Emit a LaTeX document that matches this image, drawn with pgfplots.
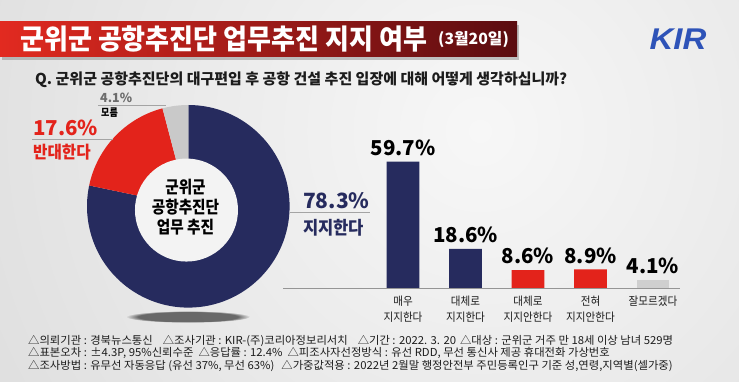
\documentclass[border=0pt]{standalone}
\usepackage{pgfplots}
\pgfplotsset{compat=1.18}
\usepackage{fontspec}
\usepackage{graphicx}
\usetikzlibrary{shadows,fadings}
\setmainfont{Noto Sans CJK KR}
\newfontfamily\fA[FakeStretch=0.93]{Noto Sans CJK KR}
\newfontfamily\fAA[FakeStretch=1.02]{Noto Sans CJK KR}
\newfontfamily\fB[FakeStretch=0.92]{Noto Sans CJK KR}
\newfontfamily\fQ[FakeStretch=1.0]{Noto Sans CJK KR}
\newfontfamily\fC[FakeStretch=0.86]{Noto Sans CJK KR}
\newfontfamily\fD[FakeStretch=1.03]{Noto Sans CJK KR}
\newfontfamily\fN{Noto Sans CJK KR}
\newfontfamily\logo{Liberation Sans}
\newcommand{\fs}[1]{\fontsize{#1bp}{1.25\dimexpr#1bp\relax}\selectfont}
\definecolor{navy}{HTML}{262B5E}
\definecolor{kred}{HTML}{E3231B}
\definecolor{wgrey}{HTML}{C9C9C9}
\definecolor{bgrey}{HTML}{CFCFCF}
\definecolor{bglight}{HTML}{F7F7F7}
\definecolor{bgdark}{HTML}{D0D0D0}
\definecolor{tl}{HTML}{E22A20}
\definecolor{tr}{HTML}{5A0C10}
\definecolor{kirblue}{HTML}{2E53B8}
\definecolor{hole}{HTML}{F3F3F3}
\definecolor{txt}{HTML}{1C1C1C}
\definecolor{axl}{HTML}{A4A4A4}
\definecolor{base}{HTML}{959595}
% donut values (%)
\def\vSup{78.3}\def\vOpp{17.6}\def\vDk{4.1}
\begin{document}
\begin{tikzpicture}[x=1bp,y=1bp]
\useasboundingbox (0,0) rectangle (739,381);
\coordinate (donutC) at (188.3,174.7);
\coordinate (barSW) at (283,92.7);
\begin{scope}
\clip (0,0) rectangle (739,381);
\shade[inner color=bglight, outer color=bgdark] (480,250) circle (900);
\end{scope}
% title bar
\shade[left color=tl, right color=tr, drop shadow={shadow xshift=2bp, shadow yshift=-3bp, opacity=0.45}] (0,324.3) rectangle (517,359.3);
\node[anchor=west, inner sep=0, text=white] at (20,342) {\fA\bfseries\fs{28}군위군 공항추진단 업무추진 지지 여부};
\node[anchor=west, inner sep=0, text=white] at (438,341.5) {\fAA\bfseries\fs{15.5}(3월20일)};
% logo
\node[inner sep=0, text=kirblue] at (678,342) {\scalebox{1.1}[1]{\logo\bfseries\itshape\fs{30}KIR}};
% question
\node[anchor=west, inner sep=0, text=txt] at (35,301) {\fQ\bfseries\fs{15}Q. 군위군 공항추진단의 대구편입 후 공항 건설 추진 입장에 대해 어떻게 생각하십니까?};
% donut shadow
\fill[black, opacity=0.55, path fading=circle with fuzzy edge 20 percent] (188,64.3) ellipse (62 and 6);
% bar chart
\begin{axis}[at={(barSW)}, anchor=south west, scale only axis, width=397bp, height=148.4bp,
  xmin=-1.92, xmax=4.432, ymin=0, ymax=70,
  axis x line*=bottom, axis y line=none,
  x axis line style={draw=base, line width=1bp},
  xtick={0,1,2,3,4},
  xticklabels={{매우\\지지한다},{대체로\\지지한다},{대체로\\지지안한다},{전혀\\지지안한다},{잘모르겠다}},
  xticklabel style={align=center, font={\fB\fontsize{11.5bp}{15.5bp}\selectfont}, text=txt, yshift=-4.5bp},
  major tick length=0pt,
  ybar, bar width=32.6bp,
  nodes near coords={\pgfmathprintnumber[fixed,fixed zerofill,precision=1]{\pgfplotspointmeta}\%},
  nodes near coords style={font={\fN\bfseries\fs{20.5}}, text=black, yshift=2.5bp},
  /pgf/number format/assume math mode=true,
  clip=false]
\addplot[fill=navy, draw=none, bar shift=0pt] coordinates {(0,59.7) (1,18.6)};
\addplot[fill=kred, draw=none, bar shift=0pt] coordinates {(2,8.6) (3,8.9)};
\addplot[fill=bgrey, draw=none, bar shift=0pt] coordinates {(4,4.1)};
\end{axis}
\draw[base, line width=1bp] (barSW) -- ++(397,0);
% donut
\pgfmathsetmacro\aA{90-3.6*\vSup}
\pgfmathsetmacro\aB{\aA-3.6*\vOpp}
\pgfmathsetmacro\aC{\aB-3.6*\vDk}
\begin{axis}[at={(donutC)}, anchor=center, scale only axis, width=202.6bp, height=202.6bp,
  xmin=-1, xmax=1, ymin=-1, ymax=1, hide axis, clip=false]
\fill[navy] (axis cs:0,0) -- ++(90:101.3bp) arc[start angle=90, end angle=\aA, radius=101.3bp] -- cycle;
\fill[kred] (axis cs:0,0) -- ++(\aA:101.3bp) arc[start angle=\aA, end angle=\aB, radius=101.3bp] -- cycle;
\fill[wgrey] (axis cs:0,0) -- ++(\aB:101.3bp) arc[start angle=\aB, end angle=\aC, radius=101.3bp] -- cycle;
\fill[hole] (axis cs:-0.018,-0.037) circle[radius=51.5bp];
\end{axis}
\node[align=center, inner sep=0, text=black, font={\fC\bfseries\fontsize{17bp}{20bp}\selectfont}] at (185.5,174.3) {군위군\\공항추진단\\업무 추진};
% donut labels
\draw[axl, line width=0.6bp] (98,276) -- (166,276);
\node[anchor=west, inner sep=0, text=gray!85!black] at (100,283) {\fN\bfseries\fs{12.5}4.1\%};
\node[anchor=west, inner sep=0, text=black] at (101,268) {\fC\bfseries\fs{10.5}모름};
\draw[axl, line width=0.6bp] (32,242) -- (113,242);
\node[anchor=west, inner sep=0, text=kred] at (33,253) {\fN\bfseries\fs{20.5}17.6\%};
\node[anchor=west, inner sep=0, text=kred] at (33,229.3) {\fB\bfseries\fs{17}반대한다};
\draw[axl, line width=0.6bp] (290,168.7) -- (370,168.7);
\node[anchor=west, inner sep=0, text=navy] at (303,180.3) {\fN\bfseries\fs{21}78.3\%};
\node[anchor=west, inner sep=0, text=navy] at (303,153.7) {\fB\bfseries\fs{18}지지한다};
% footnotes
\node[anchor=west, inner sep=0, text=txt] at (28,40.3) {\fD\fs{11}△의뢰기관 : 경북뉴스통신\hspace{10bp}△조사기관 : KIR-(주)코리아정보리서치\hspace{10bp}△기간 : 2022. 3. 20\hspace{4bp}△대상 : 군위군 거주 만 18세 이상 남녀 529명};
\node[anchor=west, inner sep=0, text=txt] at (28,28) {\fD\fs{11}△표본오차 : ±4.3P, 95\%신뢰수준\hspace{5bp}△응답률 : 12.4\%\hspace{5bp}△피조사자선정방식 : 유선 RDD, 무선 통신사 제공 휴대전화 가상번호};
\node[anchor=west, inner sep=0, text=txt] at (28,15.3) {\fD\fs{11}△조사방법 : 유무선 자동응답 (유선 37\%, 무선 63\%)\hspace{7bp}△가중값적용 : 2022년 2월말 행정안전부 주민등록인구 기준 성,연령,지역별(셀가중)};
\end{tikzpicture}
\end{document}
